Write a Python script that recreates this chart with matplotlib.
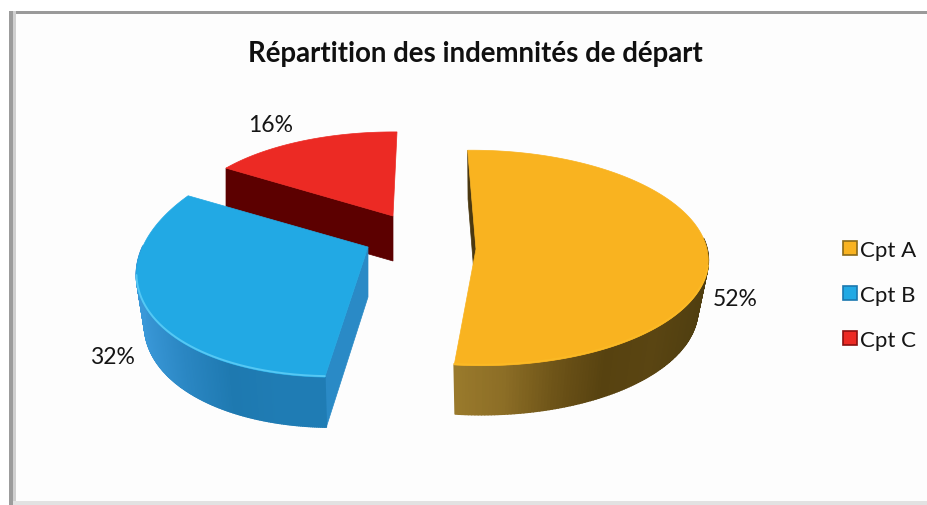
import numpy as np
import matplotlib
matplotlib.use("Agg")
import matplotlib.pyplot as plt
from matplotlib.collections import PolyCollection
from matplotlib.colors import LinearSegmentedColormap
from matplotlib.patches import Patch, Rectangle, Polygon

title = "Répartition des indemnités de départ"
categories = ["Cpt A", "Cpt B", "Cpt C"]
shares = [52, 32, 16]
pct_labels = ["52%", "32%", "16%"]

top_colors = ["#F9B320", "#22A9E4", "#EC2A24"]
rim_colors = ["#FBB925", "#55C8F4", "#F04038"]
legend_edges = ["#8A6A18", "#1B78B0", "#8A1010"]
wall_stops = [
    ["#9A7A2C", "#8C6E26", "#6E5418", "#574210", "#5A4512", "#4F3E10"],
    ["#3A98D8", "#2A86C2", "#1E79B0", "#1F7CB4", "#1F7CB4"],
    ["#5E0000", "#5E0000"],
]
radial_colors = [("#4A3810", None), ("#2A8AC6", None), ("#5C0000", None)]

# placement of each slice's disc on the page
# (center x, center y, a, b, c, d, depth, lower-rim scale)
disc = [
    (476, 250, 231, 5, 0, 107, 49, 0.955),
    (368, 248, 229, -15, -10, 119, 50, 0.965),
    (393, 217, 209, -8, 3, 91, 45, 1.0),
]
persp = 0.083
start_deg = -1.0
draw_order = [2, 0, 1]
pct_pos = [(735, 299), (112, 358), (271, 125)]

plt.rcParams["font.family"] = ["Lato", "DejaVu Sans"]
fig = plt.figure(figsize=(9.27, 5.06), dpi=100, facecolor="white")
ax = fig.add_axes([0, 0, 1, 1])
ax.set_xlim(0, 927)
ax.set_ylim(506, 0)
ax.axis("off")

# frame
ax.add_patch(Rectangle((9, 12), 918, 491, fc="#FDFDFD", ec="none", zorder=0))
ax.add_patch(Rectangle((9, 12), 918, 2.5, fc="#9A9A9A", ec="none", zorder=1))
ax.add_patch(Rectangle((9, 12), 4, 494, fc="#9C9C9C", ec="none", zorder=1))
ax.add_patch(Rectangle((13, 12), 3, 494, fc="#D0D0D0", ec="none", zorder=1))
ax.add_patch(Rectangle((13, 502), 914, 4, fc="#E2E2E2", ec="none", zorder=1))


def project(i, theta_deg):
    cx, cy, a, b, c, d = disc[i][:6]
    t = np.radians(np.asarray(theta_deg, dtype=float))
    u, v = np.sin(t), -np.cos(t)
    w = 1 - persp * v
    return cx + (a * u + b * v) / w, cy + (c * u + d * v) / w


angles = np.cumsum([0] + [s * 3.6 for s in shares]) + start_deg
z = 2
for i in draw_order:
    t0, t1 = angles[i], angles[i + 1]
    cx, cy = disc[i][0], disc[i][1]
    depth, scale = disc[i][6], disc[i][7]
    th = np.linspace(t0, t1, 240)
    x, y = project(i, th)
    xl = cx + (x - cx) * scale
    yl = y + depth

    # radial walls
    for th_end, col in zip((t0, t1), radial_colors[i]):
        if col is None:
            continue
        px, py = project(i, th_end)
        ax.add_patch(Polygon([(cx, cy), (px, py),
                              (cx + (px - cx) * scale, py + depth), (cx, cy + depth)],
                             closed=True, fc=col, ec=col, lw=0.5, zorder=z))
    z += 1

    # outer wall, shaded along the arc; only the part turned toward the viewer
    cmap = LinearSegmentedColormap.from_list("w", wall_stops[i])
    xn = (x - x.min()) / (x.max() - x.min())
    seen = np.cos(np.radians(th)) < 0.1
    quads, cols = [], []
    for k in range(len(x) - 1):
        if seen[k] and seen[k + 1]:
            quads.append([(x[k], y[k]), (x[k + 1], y[k + 1]),
                          (xl[k + 1], yl[k + 1]), (xl[k], yl[k])])
            cols.append(cmap(xn[k]))
    if quads:
        ax.add_collection(PolyCollection(quads, facecolors=cols, edgecolors=cols,
                                         linewidths=1.2, zorder=z))
    z += 1

    # top face
    ax.fill(np.r_[cx, x], np.r_[cy, y], fc=top_colors[i], ec=top_colors[i], lw=0.5, zorder=z)
    z += 1
    # lighter bevel along the front of the rim
    front = np.cos(np.radians(th)) < -0.15
    if front.any():
        ax.plot(x[front], y[front] - 1, color=rim_colors[i], lw=1.4, zorder=z,
                solid_capstyle="round")
    z += 1

ax.text(475, 54, title, ha="center", va="center", fontsize=19.9, fontweight="bold",
        color="#101010", zorder=z)

for lab, (px, py) in zip(pct_labels, pct_pos):
    ax.text(px, py, lab, ha="center", va="center", fontsize=16.5, color="#151515", zorder=z)

handles = [Patch(facecolor=f, edgecolor=e, linewidth=1.2, label=n)
           for f, e, n in zip(top_colors, legend_edges, categories)]
leg = ax.legend(handles=handles, loc="center left", bbox_to_anchor=(843 / 927, 1 - 296 / 506),
                frameon=False, fontsize=16, handlelength=0.62, handleheight=0.62,
                handletextpad=0.15, labelspacing=1.13, borderpad=0, borderaxespad=0,
                labelcolor="#151515")

fig.savefig("out.png", dpi=100, facecolor="white")
